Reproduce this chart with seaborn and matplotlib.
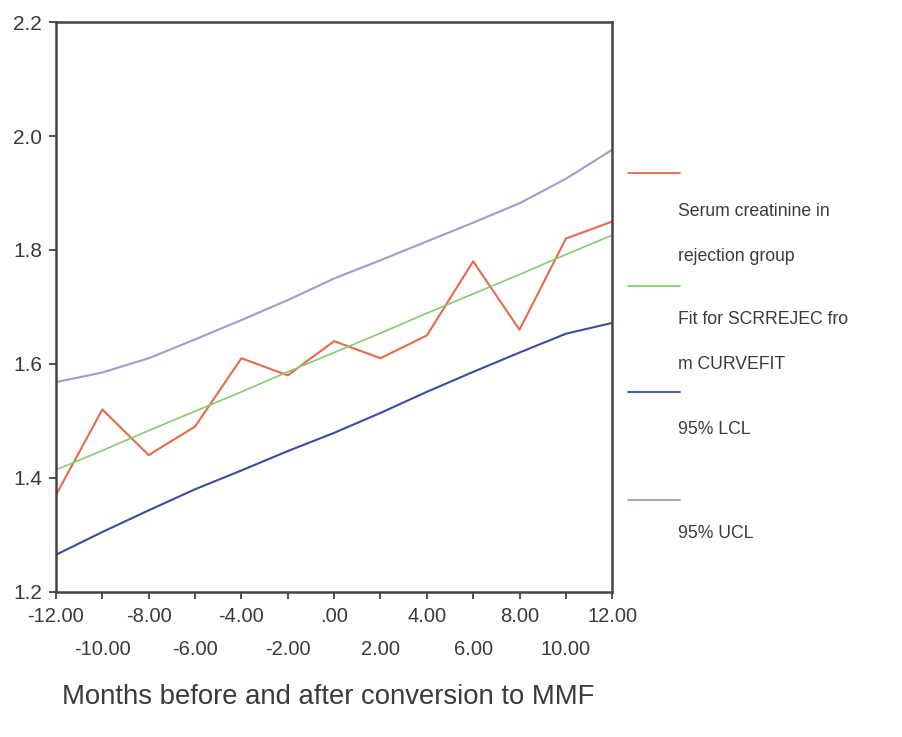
"""Serum creatinine in rejection group with linear fit and 95% limits."""
import numpy as np
import pandas as pd
import seaborn as sns
import matplotlib.pyplot as plt
from matplotlib.lines import Line2D

months = [-12, -10, -8, -6, -4, -2, 0, 2, 4, 6, 8, 10, 12]
creatinine = [1.37, 1.52, 1.44, 1.49, 1.61, 1.58, 1.64, 1.61, 1.65, 1.78, 1.66, 1.82, 1.85]
fit = [1.414, 1.448, 1.483, 1.517, 1.551, 1.586, 1.620, 1.654, 1.689, 1.723, 1.757, 1.792, 1.826]
lcl = [1.265, 1.305, 1.343, 1.380, 1.413, 1.447, 1.479, 1.514, 1.551, 1.586, 1.620, 1.653, 1.672]
ucl = [1.568, 1.585, 1.610, 1.643, 1.677, 1.712, 1.750, 1.782, 1.815, 1.848, 1.882, 1.925, 1.976]

labels = ['Serum creatinine in\nrejection group',
          'Fit for SCRREJEC fro\nm CURVEFIT',
          '95% LCL',
          '95% UCL']
colors = ['#e8694c', '#86cc72', '#3c4c9e', '#a39acb']

sns.set_style('white')
plt.rcParams['font.family'] = ['Liberation Sans', 'DejaVu Sans']

df = pd.DataFrame({'month': months, 'creat': creatinine, 'fit': fit,
                   'lcl': lcl, 'ucl': ucl})

fig = plt.figure(figsize=(9.03, 7.37), dpi=100)
ax = fig.add_axes([0.062, 0.197, 0.616, 0.773])

sns.lineplot(data=df, x='month', y='creat', color=colors[0], lw=1.5, ax=ax)
sns.lineplot(data=df, x='month', y='fit', color=colors[1], lw=1.2, ax=ax)
sns.lineplot(data=df, x='month', y='lcl', color=colors[2], lw=1.5, ax=ax)
sns.lineplot(data=df, x='month', y='ucl', color=colors[3], lw=1.5, ax=ax)

ax.set_xlim(-12, 12)
ax.set_ylim(1.2, 2.2)
ax.set_xlabel('')
ax.set_ylabel('')


def fmt(v):
    return '.00' if v == 0 else '%.2f' % v


# staggered labels: upper row on major ticks, lower row on minor ticks
xt_top = months[0::2]
xt_low = months[1::2]
ax.set_xticks(xt_top)
ax.set_xticklabels([fmt(v) for v in xt_top], fontsize=14.5, color='#3a3a3a')
ax.set_xticks(xt_low, minor=True)
ax.set_xticklabels([fmt(v) for v in xt_low], minor=True, fontsize=14.5,
                   color='#3a3a3a')
yt = np.arange(1.2, 2.21, 0.2)
ax.set_yticks(yt)
ax.set_yticklabels(['%.1f' % v for v in yt], fontsize=15, color='#3a3a3a')
ax.tick_params(which='both', direction='out', length=5, width=1.2,
               color='#333333', bottom=True, left=True)
ax.tick_params(axis='x', which='major', pad=6)
ax.tick_params(axis='x', which='minor', pad=30)
ax.tick_params(axis='y', pad=5)
for sp in ax.spines.values():
    sp.set_color('#444444')
    sp.set_linewidth(1.8)

fig.text(0.363, 0.054, 'Months before and after conversion to MMF',
         ha='center', va='center', fontsize=19.8, color='#3a3a3a')

# legend block on the right, line sample above each text
leg_lines_y = [173, 286, 392, 500]
leg_text_y = [234, 342, 430, 533]
for c, lab, ly, ty in zip(colors, labels, leg_lines_y, leg_text_y):
    fig.add_artist(Line2D([628 / 903, 680 / 903], [1 - ly / 737, 1 - ly / 737],
                          color=c, lw=1.3))
    fig.text(678 / 903, 1 - ty / 737, lab, ha='left', va='center',
             fontsize=12.7, color='#3a3a3a', linespacing=3.1)

fig.savefig('out.png', dpi=100)
